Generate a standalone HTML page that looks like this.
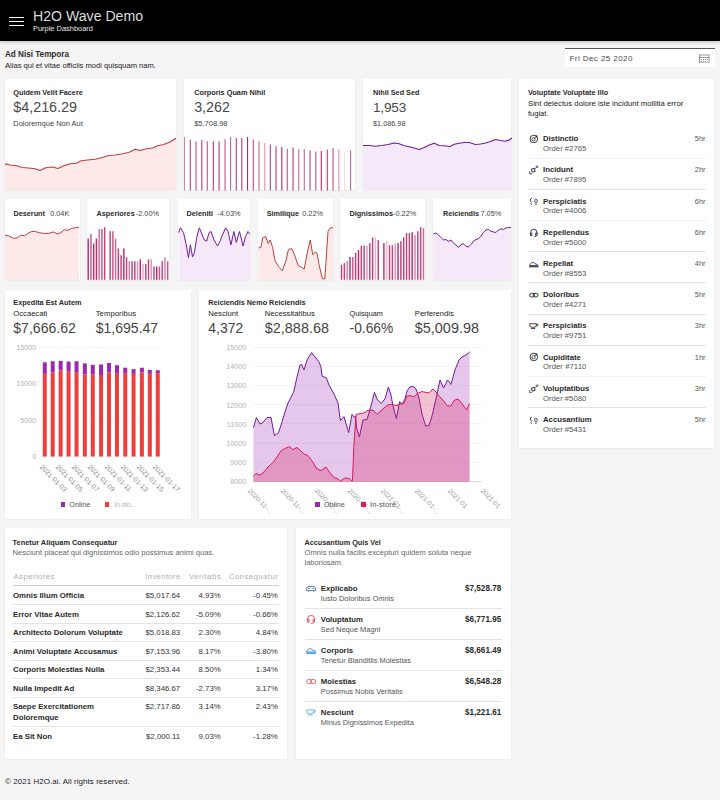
<!DOCTYPE html>
<html><head><meta charset="utf-8"><title>H2O Wave Demo</title>
<style>
html,body{margin:0;padding:0}
body{width:720px;height:800px;position:relative;overflow:hidden;background:#f5f5f5;font-family:"Liberation Sans", sans-serif;color:#222}
.card{position:absolute;background:#fff;box-shadow:0 0.5px 1.5px rgba(0,0,0,0.09);overflow:hidden}
.hdr{position:absolute;left:0;top:0;width:720px;height:41px;background:#000;box-shadow:0 1px 4px rgba(0,0,0,0.25)}
.sep{position:absolute;height:1px;background:#e3e3e3}
</style></head><body>
<div class="hdr"></div>
<div style="position:absolute;left:9px;top:17px;width:14.5px;height:1.3px;background:#fff"></div>
<div style="position:absolute;left:9px;top:21px;width:14.5px;height:1.3px;background:#fff"></div>
<div style="position:absolute;left:9px;top:25px;width:14.5px;height:1.3px;background:#fff"></div>
<div style="position:absolute;top:8px;font-size:14.11px;line-height:16px;font-weight:400;color:#dcdcdc;white-space:nowrap;letter-spacing:0.000px;left:33px;">H2O Wave Demo</div>
<div style="position:absolute;top:24px;font-size:7.44px;line-height:9px;font-weight:400;color:#e8e8e8;white-space:nowrap;letter-spacing:-0.000px;left:33px;">Purple Dashboard</div>
<div style="position:absolute;top:50px;font-size:8.13px;line-height:9px;font-weight:700;color:#2a2a2a;white-space:nowrap;letter-spacing:0.000px;left:5px;">Ad Nisi Tempora</div>
<div style="position:absolute;top:61px;font-size:7.60px;line-height:9px;font-weight:400;color:#222;white-space:nowrap;letter-spacing:0.000px;left:5px;">Alias qui et vitae officiis modi quisquam nam.</div>
<div style="position:absolute;left:564.5px;top:48px;width:150px;height:19px;background:#fff;border-top:1px solid #555;box-sizing:border-box"></div>
<div style="position:absolute;top:54px;font-size:8.06px;line-height:9px;font-weight:400;color:#4a4a4a;white-space:nowrap;letter-spacing:0.406px;left:569.5px;">Fri Dec 25 2020</div>
<svg style="position:absolute;left:699px;top:53.5px" width="10.5" height="9.5" viewBox="0 0 21 19"><rect x="1" y="2" width="19" height="16" fill="none" stroke="#6a6a6a" stroke-width="1.4"/><line x1="1" y1="7" x2="20" y2="7" stroke="#6a6a6a" stroke-width="1.4"/><g fill="#8a8a8a"><rect x="4" y="10" width="2" height="2"/><rect x="8" y="10" width="2" height="2"/><rect x="12" y="10" width="2" height="2"/><rect x="16" y="10" width="2" height="2"/><rect x="4" y="14" width="2" height="2"/><rect x="8" y="14" width="2" height="2"/><rect x="12" y="14" width="2" height="2"/></g></svg>
<div class="card" style="left:5px;top:79.3px;width:171px;height:111.10000000000001px"></div>
<div style="position:absolute;top:88px;font-size:7.27px;line-height:9px;font-weight:700;color:#2a2a2a;white-space:nowrap;letter-spacing:-0.000px;left:13.3px;">Quidem Velit Facere</div>
<div style="position:absolute;top:99px;font-size:14.32px;line-height:16px;font-weight:400;color:#4a4a4a;white-space:nowrap;left:13.3px;">$4,216.29</div>
<div style="position:absolute;top:119px;font-size:7.49px;line-height:9px;font-weight:400;color:#444;white-space:nowrap;left:13.3px;">Doloremque Non Aut</div>
<svg style="position:absolute;left:5px;top:130px" width="171" height="60.5" viewBox="0 0 171 60.5"><path d="M-0.50,33.75 L5.00,35.00 L11.25,35.75 L17.50,37.50 L23.75,38.00 L30.00,38.75 L35.00,40.50 L41.25,37.50 L47.50,37.00 L53.00,38.50 L58.75,35.75 L65.00,33.75 L71.25,33.25 L76.25,30.75 L82.50,30.00 L90.00,29.25 L97.50,27.50 L102.50,25.75 L110.00,25.00 L117.50,23.75 L123.75,22.50 L130.00,19.25 L135.00,20.50 L141.25,18.75 L147.50,18.00 L152.50,15.75 L158.75,14.50 L165.00,12.00 L171.00,8.25 L171.00,60.50 L-0.50,60.50 Z" fill="#fde9e7" fill-opacity="1"/><path d="M-0.50,33.75 L5.00,35.00 L11.25,35.75 L17.50,37.50 L23.75,38.00 L30.00,38.75 L35.00,40.50 L41.25,37.50 L47.50,37.00 L53.00,38.50 L58.75,35.75 L65.00,33.75 L71.25,33.25 L76.25,30.75 L82.50,30.00 L90.00,29.25 L97.50,27.50 L102.50,25.75 L110.00,25.00 L117.50,23.75 L123.75,22.50 L130.00,19.25 L135.00,20.50 L141.25,18.75 L147.50,18.00 L152.50,15.75 L158.75,14.50 L165.00,12.00 L171.00,8.25" fill="none" stroke="#b84040" stroke-width="1.1" stroke-linejoin="round"/></svg>
<div class="card" style="left:184.2px;top:79.3px;width:170.8px;height:111.10000000000001px"></div>
<div style="position:absolute;top:88px;font-size:7.32px;line-height:9px;font-weight:700;color:#2a2a2a;white-space:nowrap;left:194.2px;">Corporis Quam Nihil</div>
<div style="position:absolute;top:99px;font-size:14.27px;line-height:16px;font-weight:400;color:#4a4a4a;white-space:nowrap;left:194.2px;">3,262</div>
<div style="position:absolute;top:119px;font-size:7.49px;line-height:9px;font-weight:400;color:#444;white-space:nowrap;left:194.2px;">$5,708.98</div>
<svg style="position:absolute;left:184.2px;top:130px" width="170.8" height="60.5" viewBox="0 0 170.8 60.5"><rect x="-0.25" y="7.00" width="1.1" height="53.50" fill="#b02a68" fill-opacity="0.7"/><rect x="5.75" y="9.50" width="1.1" height="51.00" fill="#b02a68" fill-opacity="0.9"/><rect x="11.50" y="11.25" width="1.1" height="49.25" fill="#b02a68" fill-opacity="0.8"/><rect x="17.25" y="10.00" width="1.1" height="50.50" fill="#b02a68" fill-opacity="0.9"/><rect x="22.75" y="11.25" width="1.1" height="49.25" fill="#b02a68" fill-opacity="0.8"/><rect x="28.75" y="11.25" width="1.1" height="49.25" fill="#b02a68" fill-opacity="0.95"/><rect x="34.50" y="11.25" width="1.1" height="49.25" fill="#b02a68" fill-opacity="0.9"/><rect x="40.50" y="9.25" width="1.1" height="51.25" fill="#b02a68" fill-opacity="0.8"/><rect x="46.00" y="7.00" width="1.1" height="53.50" fill="#b02a68" fill-opacity="0.7"/><rect x="51.75" y="8.00" width="1.1" height="52.50" fill="#b02a68" fill-opacity="0.9"/><rect x="57.25" y="8.00" width="1.1" height="52.50" fill="#b02a68" fill-opacity="0.9"/><rect x="63.00" y="7.00" width="1.1" height="53.50" fill="#b02a68" fill-opacity="1"/><rect x="68.75" y="9.50" width="1.1" height="51.00" fill="#b02a68" fill-opacity="0.85"/><rect x="74.50" y="11.50" width="1.1" height="49.00" fill="#b02a68" fill-opacity="0.7"/><rect x="80.25" y="13.00" width="1.1" height="47.50" fill="#b02a68" fill-opacity="0.5"/><rect x="85.75" y="14.50" width="1.1" height="46.00" fill="#b02a68" fill-opacity="0.9"/><rect x="91.50" y="16.25" width="1.1" height="44.25" fill="#b02a68" fill-opacity="0.9"/><rect x="97.25" y="17.00" width="1.1" height="43.50" fill="#b02a68" fill-opacity="1"/><rect x="102.75" y="18.75" width="1.1" height="41.75" fill="#b02a68" fill-opacity="0.8"/><rect x="108.50" y="17.50" width="1.1" height="43.00" fill="#b02a68" fill-opacity="0.9"/><rect x="114.25" y="19.00" width="1.1" height="41.50" fill="#b02a68" fill-opacity="0.7"/><rect x="119.75" y="19.00" width="1.1" height="41.50" fill="#b02a68" fill-opacity="0.7"/><rect x="125.50" y="20.50" width="1.1" height="40.00" fill="#b02a68" fill-opacity="0.9"/><rect x="131.25" y="21.50" width="1.1" height="39.00" fill="#b02a68" fill-opacity="0.8"/><rect x="136.75" y="21.00" width="1.1" height="39.50" fill="#b02a68" fill-opacity="1"/><rect x="142.75" y="19.50" width="1.1" height="41.00" fill="#b02a68" fill-opacity="0.9"/><rect x="148.50" y="18.00" width="1.1" height="42.50" fill="#b02a68" fill-opacity="0.8"/><rect x="154.25" y="19.50" width="1.1" height="41.00" fill="#b02a68" fill-opacity="0.5"/><rect x="160.00" y="23.00" width="1.1" height="37.50" fill="#b02a68" fill-opacity="0.15"/><rect x="166.00" y="20.50" width="1.1" height="40.00" fill="#b02a68" fill-opacity="0.7"/></svg>
<div class="card" style="left:362.5px;top:79.3px;width:148.89999999999998px;height:111.10000000000001px"></div>
<div style="position:absolute;top:88px;font-size:7.28px;line-height:9px;font-weight:700;color:#2a2a2a;white-space:nowrap;letter-spacing:0.000px;left:373px;">Nihil Sed Sed</div>
<div style="position:absolute;top:100px;font-size:13.63px;line-height:15px;font-weight:400;color:#4a4a4a;white-space:nowrap;letter-spacing:-0.204px;left:373px;">1,953</div>
<div style="position:absolute;top:119px;font-size:7.31px;line-height:9px;font-weight:400;color:#444;white-space:nowrap;left:373px;">$1,086.98</div>
<svg style="position:absolute;left:362.5px;top:130px" width="149.0" height="60.5" viewBox="0 0 149.0 60.5"><path d="M0.00,15.50 L6.25,15.50 L12.50,16.25 L18.75,15.50 L25.00,14.50 L31.25,13.00 L36.25,13.75 L41.25,15.75 L46.25,16.75 L51.25,18.00 L56.25,19.50 L61.25,17.50 L66.25,15.00 L71.25,13.25 L76.25,15.50 L81.25,15.75 L87.00,16.50 L91.25,14.25 L96.25,13.25 L101.25,12.50 L106.25,12.50 L112.50,14.50 L117.50,14.00 L122.50,13.00 L127.50,11.50 L132.50,9.50 L137.50,10.50 L142.50,11.25 L146.25,10.00 L149.00,8.00 L149.00,60.50 L0.00,60.50 Z" fill="#f5e8f8" fill-opacity="1"/><path d="M0.00,15.50 L6.25,15.50 L12.50,16.25 L18.75,15.50 L25.00,14.50 L31.25,13.00 L36.25,13.75 L41.25,15.75 L46.25,16.75 L51.25,18.00 L56.25,19.50 L61.25,17.50 L66.25,15.00 L71.25,13.25 L76.25,15.50 L81.25,15.75 L87.00,16.50 L91.25,14.25 L96.25,13.25 L101.25,12.50 L106.25,12.50 L112.50,14.50 L117.50,14.00 L122.50,13.00 L127.50,11.50 L132.50,9.50 L137.50,10.50 L142.50,11.25 L146.25,10.00 L149.00,8.00" fill="none" stroke="#6f1b9a" stroke-width="1.1" stroke-linejoin="round"/></svg>
<div class="card" style="left:519.3px;top:79.3px;width:195.20000000000005px;height:368.59999999999997px"></div>
<div style="position:absolute;top:88px;font-size:7.32px;line-height:9px;font-weight:700;color:#2a2a2a;white-space:nowrap;left:528px;">Voluptate Voluptate Illo</div>
<div style="position:absolute;top:99px;font-size:7.73px;line-height:9px;font-weight:400;color:#222;white-space:nowrap;letter-spacing:0.000px;left:528px;">Sint delectus dolore iste incidunt mollitia error</div>
<div style="position:absolute;top:109px;font-size:7.53px;line-height:9px;font-weight:400;color:#222;white-space:nowrap;left:528px;">fugiat.</div>
<svg style="position:absolute;left:529.0px;top:133.89999999999998px" width="9.6" height="9.6" viewBox="0 0 16 16"><circle cx="8" cy="8.3" r="6.3" fill="none" stroke="#2a2a2a" stroke-width="1.5"/><circle cx="7.6" cy="8.8" r="2.7" fill="none" stroke="#2a2a2a" stroke-width="1.4"/><path d="M9.5 7 L13 3.2 M10.5 3 h2.8 v2.8" fill="none" stroke="#2a2a2a" stroke-width="1.3"/></svg>
<div style="position:absolute;top:134px;font-size:7.75px;line-height:9px;font-weight:700;color:#2a2a2a;white-space:nowrap;left:543px;">Distinctio</div>
<div style="position:absolute;top:144px;font-size:7.71px;line-height:9px;font-weight:400;color:#555;white-space:nowrap;left:543px;">Order #2765</div>
<div style="position:absolute;top:134px;font-size:7.40px;line-height:9px;font-weight:400;color:#555;white-space:nowrap;right:14.50px;">5hr</div>
<div class="sep" style="left:528px;width:178px;top:157.5px;background:#f0f0f0"></div>
<svg style="position:absolute;left:529.0px;top:165.09999999999997px" width="9.6" height="9.6" viewBox="0 0 16 16"><rect x="4.6" y="6.2" width="5.2" height="5.2" fill="none" stroke="#2a2a2a" stroke-width="1.5" transform="rotate(-12 7 9)"/><path d="M9.8 6.4 L12.4 3.8 M1.2 10.5 v4.3 h4.3" fill="none" stroke="#2a2a2a" stroke-width="1.4"/><circle cx="13.4" cy="2.8" r="1.5" fill="none" stroke="#2a2a2a" stroke-width="1.2"/></svg>
<div style="position:absolute;top:165px;font-size:7.75px;line-height:9px;font-weight:700;color:#2a2a2a;white-space:nowrap;left:543px;">Incidunt</div>
<div style="position:absolute;top:175px;font-size:7.71px;line-height:9px;font-weight:400;color:#555;white-space:nowrap;left:543px;">Order #7895</div>
<div style="position:absolute;top:165px;font-size:7.40px;line-height:9px;font-weight:400;color:#555;white-space:nowrap;right:14.50px;">2hr</div>
<div class="sep" style="left:528px;width:178px;top:188.7px;background:#e2e2e2"></div>
<svg style="position:absolute;left:529.0px;top:196.29999999999998px" width="9.6" height="9.6" viewBox="0 0 16 16"><path d="M4.8 3.5 q-3 0.5 -2.6 4.5 q0.2 2 2.6 2 M2.4 12.3 q0.3 1.8 2.4 1.6" fill="none" stroke="#2a2a2a" stroke-width="1.4"/><path d="M11 5 q3 0.3 2.8 4.2 q-0.3 2.2 -2.6 2.2 q-1.8 -0.2 -1.6 -3 q0.2 -3 1.4 -3.4 z M10 13.2 q1.2 1.6 3 0.2" fill="none" stroke="#2a2a2a" stroke-width="1.4"/></svg>
<div style="position:absolute;top:197px;font-size:7.75px;line-height:9px;font-weight:700;color:#2a2a2a;white-space:nowrap;left:543px;">Perspiciatis</div>
<div style="position:absolute;top:206px;font-size:7.71px;line-height:9px;font-weight:400;color:#555;white-space:nowrap;left:543px;">Order #4006</div>
<div style="position:absolute;top:197px;font-size:7.40px;line-height:9px;font-weight:400;color:#555;white-space:nowrap;right:14.50px;">6hr</div>
<div class="sep" style="left:528px;width:178px;top:219.9px;background:#f0f0f0"></div>
<svg style="position:absolute;left:529.0px;top:227.49999999999997px" width="9.6" height="9.6" viewBox="0 0 16 16"><path d="M2.6 10 V7.6 a5.4 5.4 0 0 1 10.8 0 V10 M2.6 8.3 v4.6 h2.2 v-4.6 z M13.4 8.3 v4.6 h-2.2 v-4.6 z M12.3 13 q-1 2 -4.2 2" fill="none" stroke="#2a2a2a" stroke-width="1.5"/></svg>
<div style="position:absolute;top:228px;font-size:7.75px;line-height:9px;font-weight:700;color:#2a2a2a;white-space:nowrap;left:543px;">Repellendus</div>
<div style="position:absolute;top:238px;font-size:7.71px;line-height:9px;font-weight:400;color:#555;white-space:nowrap;left:543px;">Order #5000</div>
<div style="position:absolute;top:228px;font-size:7.40px;line-height:9px;font-weight:400;color:#555;white-space:nowrap;right:14.50px;">6hr</div>
<div class="sep" style="left:528px;width:178px;top:251.1px;background:#e2e2e2"></div>
<svg style="position:absolute;left:529.0px;top:258.7px" width="9.6" height="9.6" viewBox="0 0 16 16"><path d="M1 11 h14 q0 -2 -3.6 -2.6 q-2.6 -0.6 -4.2 -3.4 q-1 1.4 -2.8 1 l-3 3.2 z" fill="none" stroke="#2a2a2a" stroke-width="1.4" stroke-linejoin="round"/><path d="M0.3 12.9 h15.4" stroke="#2a2a2a" stroke-width="1.9"/></svg>
<div style="position:absolute;top:259px;font-size:7.75px;line-height:9px;font-weight:700;color:#2a2a2a;white-space:nowrap;left:543px;">Repellat</div>
<div style="position:absolute;top:269px;font-size:7.71px;line-height:9px;font-weight:400;color:#555;white-space:nowrap;left:543px;">Order #8553</div>
<div style="position:absolute;top:259px;font-size:7.40px;line-height:9px;font-weight:400;color:#555;white-space:nowrap;right:14.50px;">4hr</div>
<div class="sep" style="left:528px;width:178px;top:282.3px;background:#e2e2e2"></div>
<svg style="position:absolute;left:529.0px;top:289.9px" width="9.6" height="9.6" viewBox="0 0 16 16"><rect x="1" y="5.6" width="8" height="6" rx="3" fill="none" stroke="#2a2a2a" stroke-width="1.6"/><rect x="7" y="5.6" width="8" height="6" rx="3" fill="none" stroke="#2a2a2a" stroke-width="1.6"/></svg>
<div style="position:absolute;top:290px;font-size:7.75px;line-height:9px;font-weight:700;color:#2a2a2a;white-space:nowrap;left:543px;">Doloribus</div>
<div style="position:absolute;top:300px;font-size:7.71px;line-height:9px;font-weight:400;color:#555;white-space:nowrap;left:543px;">Order #4271</div>
<div style="position:absolute;top:290px;font-size:7.40px;line-height:9px;font-weight:400;color:#555;white-space:nowrap;right:14.50px;">5hr</div>
<div class="sep" style="left:528px;width:178px;top:313.5px;background:#e2e2e2"></div>
<svg style="position:absolute;left:529.0px;top:321.09999999999997px" width="9.6" height="9.6" viewBox="0 0 16 16"><path d="M1 4.6 h11.5 v1.6 q0 4.6 -5.7 4.6 q-5.8 0 -5.8 -4.6 z M12.5 5.4 h2 q1.2 0 0.6 1.6 q-0.6 1.6 -3 1.6 M3.4 12.6 h7" fill="none" stroke="#2a2a2a" stroke-width="1.5" stroke-linejoin="round"/></svg>
<div style="position:absolute;top:321px;font-size:7.75px;line-height:9px;font-weight:700;color:#2a2a2a;white-space:nowrap;left:543px;">Perspiciatis</div>
<div style="position:absolute;top:331px;font-size:7.71px;line-height:9px;font-weight:400;color:#555;white-space:nowrap;left:543px;">Order #9751</div>
<div style="position:absolute;top:321px;font-size:7.40px;line-height:9px;font-weight:400;color:#555;white-space:nowrap;right:14.50px;">3hr</div>
<div class="sep" style="left:528px;width:178px;top:344.7px;background:#e2e2e2"></div>
<svg style="position:absolute;left:529.0px;top:352.3px" width="9.6" height="9.6" viewBox="0 0 16 16"><circle cx="8" cy="8.3" r="6.3" fill="none" stroke="#2a2a2a" stroke-width="1.5"/><circle cx="7.6" cy="8.8" r="2.7" fill="none" stroke="#2a2a2a" stroke-width="1.4"/><path d="M9.5 7 L13 3.2 M10.5 3 h2.8 v2.8" fill="none" stroke="#2a2a2a" stroke-width="1.3"/></svg>
<div style="position:absolute;top:353px;font-size:7.75px;line-height:9px;font-weight:700;color:#2a2a2a;white-space:nowrap;left:543px;">Cupiditate</div>
<div style="position:absolute;top:362px;font-size:7.74px;line-height:9px;font-weight:400;color:#555;white-space:nowrap;letter-spacing:0.043px;left:543px;">Order #7110</div>
<div style="position:absolute;top:353px;font-size:7.40px;line-height:9px;font-weight:400;color:#555;white-space:nowrap;right:14.50px;">1hr</div>
<div class="sep" style="left:528px;width:178px;top:375.9px;background:#f0f0f0"></div>
<svg style="position:absolute;left:529.0px;top:383.49999999999994px" width="9.6" height="9.6" viewBox="0 0 16 16"><rect x="4.6" y="6.2" width="5.2" height="5.2" fill="none" stroke="#2a2a2a" stroke-width="1.5" transform="rotate(-12 7 9)"/><path d="M9.8 6.4 L12.4 3.8 M1.2 10.5 v4.3 h4.3" fill="none" stroke="#2a2a2a" stroke-width="1.4"/><circle cx="13.4" cy="2.8" r="1.5" fill="none" stroke="#2a2a2a" stroke-width="1.2"/></svg>
<div style="position:absolute;top:384px;font-size:7.75px;line-height:9px;font-weight:700;color:#2a2a2a;white-space:nowrap;left:543px;">Voluptatibus</div>
<div style="position:absolute;top:394px;font-size:7.71px;line-height:9px;font-weight:400;color:#555;white-space:nowrap;left:543px;">Order #5080</div>
<div style="position:absolute;top:384px;font-size:7.40px;line-height:9px;font-weight:400;color:#555;white-space:nowrap;right:14.50px;">3hr</div>
<div class="sep" style="left:528px;width:178px;top:407.1px;background:#e2e2e2"></div>
<svg style="position:absolute;left:529.0px;top:414.7px" width="9.6" height="9.6" viewBox="0 0 16 16"><path d="M4.8 3.5 q-3 0.5 -2.6 4.5 q0.2 2 2.6 2 M2.4 12.3 q0.3 1.8 2.4 1.6" fill="none" stroke="#2a2a2a" stroke-width="1.4"/><path d="M11 5 q3 0.3 2.8 4.2 q-0.3 2.2 -2.6 2.2 q-1.8 -0.2 -1.6 -3 q0.2 -3 1.4 -3.4 z M10 13.2 q1.2 1.6 3 0.2" fill="none" stroke="#2a2a2a" stroke-width="1.4"/></svg>
<div style="position:absolute;top:415px;font-size:7.75px;line-height:9px;font-weight:700;color:#2a2a2a;white-space:nowrap;left:543px;">Accusantium</div>
<div style="position:absolute;top:425px;font-size:7.71px;line-height:9px;font-weight:400;color:#555;white-space:nowrap;left:543px;">Order #5431</div>
<div style="position:absolute;top:415px;font-size:7.40px;line-height:9px;font-weight:400;color:#555;white-space:nowrap;right:14.50px;">5hr</div>
<div class="card" style="left:5px;top:199.3px;width:74.5px;height:80.39999999999998px"></div>
<div style="position:absolute;top:209px;font-size:7.29px;line-height:9px;font-weight:700;color:#2a2a2a;white-space:nowrap;letter-spacing:-0.000px;left:13.4px;">Deserunt</div>
<div style="position:absolute;top:209px;font-size:7.32px;line-height:9px;font-weight:400;color:#444;white-space:nowrap;right:650.70px;">0.04K</div>
<div class="card" style="left:86.8px;top:199.3px;width:82.7px;height:80.39999999999998px"></div>
<div style="position:absolute;top:209px;font-size:7.32px;line-height:9px;font-weight:700;color:#2a2a2a;white-space:nowrap;letter-spacing:-0.000px;left:96.5px;">Asperiores</div>
<div style="position:absolute;top:209px;font-size:7.32px;line-height:9px;font-weight:400;color:#444;white-space:nowrap;right:561.00px;">-2.00%</div>
<div class="card" style="left:177.8px;top:199.3px;width:72.39999999999998px;height:80.39999999999998px"></div>
<div style="position:absolute;top:209px;font-size:7.32px;line-height:9px;font-weight:700;color:#2a2a2a;white-space:nowrap;left:186.5px;">Deleniti</div>
<div style="position:absolute;top:209px;font-size:7.32px;line-height:9px;font-weight:400;color:#444;white-space:nowrap;right:479.50px;">-4.03%</div>
<div class="card" style="left:257.5px;top:199.3px;width:75.5px;height:80.39999999999998px"></div>
<div style="position:absolute;top:209px;font-size:7.29px;line-height:9px;font-weight:700;color:#2a2a2a;white-space:nowrap;letter-spacing:-0.000px;left:266.7px;">Similique</div>
<div style="position:absolute;top:209px;font-size:7.32px;line-height:9px;font-weight:400;color:#444;white-space:nowrap;right:397.00px;">0.22%</div>
<div class="card" style="left:340px;top:199.3px;width:85px;height:80.39999999999998px"></div>
<div style="position:absolute;top:209px;font-size:7.32px;line-height:9px;font-weight:700;color:#2a2a2a;white-space:nowrap;left:349.5px;">Dignissimos</div>
<div style="position:absolute;top:209px;font-size:7.32px;line-height:9px;font-weight:400;color:#444;white-space:nowrap;right:303.75px;">-0.22%</div>
<div class="card" style="left:433.3px;top:199.3px;width:78.0px;height:80.39999999999998px"></div>
<div style="position:absolute;top:209px;font-size:7.20px;line-height:9px;font-weight:700;color:#2a2a2a;white-space:nowrap;letter-spacing:-0.000px;left:443px;">Reiciendis</div>
<div style="position:absolute;top:209px;font-size:7.32px;line-height:9px;font-weight:400;color:#444;white-space:nowrap;right:218.75px;">7.05%</div>
<svg style="position:absolute;left:5px;top:220px" width="74.5" height="59.69999999999999" viewBox="0 0 74.5 59.69999999999999"><path d="M-0.14,15.11 L3.51,15.84 L8.37,18.27 L12.02,18.02 L15.66,15.11 L19.31,15.84 L22.95,13.41 L26.60,11.46 L30.25,11.46 L33.89,12.68 L38.75,13.41 L43.61,13.41 L48.48,11.95 L52.12,13.89 L55.77,12.68 L59.41,9.76 L63.06,10.25 L66.71,8.30 L70.35,7.81 L74.00,7.33 L74.00,59.70 L-0.14,59.70 Z" fill="#fde9e7" fill-opacity="1"/><path d="M-0.14,15.11 L3.51,15.84 L8.37,18.27 L12.02,18.02 L15.66,15.11 L19.31,15.84 L22.95,13.41 L26.60,11.46 L30.25,11.46 L33.89,12.68 L38.75,13.41 L43.61,13.41 L48.48,11.95 L52.12,13.89 L55.77,12.68 L59.41,9.76 L63.06,10.25 L66.71,8.30 L70.35,7.81 L74.00,7.33" fill="none" stroke="#b84040" stroke-width="1.0" stroke-linejoin="round"/></svg>
<svg style="position:absolute;left:86.8px;top:220px" width="82.7" height="59.69999999999999" viewBox="0 0 82.7 59.69999999999999"><rect x="0.48" y="18.50" width="1.45" height="41.30" fill="#b82d6c" fill-opacity="1"/><rect x="3.22" y="14.00" width="1.45" height="45.80" fill="#b82d6c" fill-opacity="0.8"/><rect x="5.96" y="23.50" width="1.45" height="36.30" fill="#b82d6c" fill-opacity="1"/><rect x="8.70" y="18.50" width="1.45" height="41.30" fill="#b82d6c" fill-opacity="1"/><rect x="11.44" y="9.00" width="1.45" height="50.80" fill="#b82d6c" fill-opacity="0.7"/><rect x="14.18" y="9.00" width="1.45" height="50.80" fill="#b82d6c" fill-opacity="0.8"/><rect x="16.92" y="7.25" width="1.45" height="52.55" fill="#b82d6c" fill-opacity="0.9"/><rect x="22.41" y="11.25" width="1.45" height="48.55" fill="#b82d6c" fill-opacity="0.9"/><rect x="25.15" y="11.25" width="1.45" height="48.55" fill="#b82d6c" fill-opacity="0.8"/><rect x="27.89" y="18.50" width="1.45" height="41.30" fill="#b82d6c" fill-opacity="0.7"/><rect x="30.63" y="28.50" width="1.45" height="31.30" fill="#b82d6c" fill-opacity="0.9"/><rect x="33.37" y="35.25" width="1.45" height="24.55" fill="#b82d6c" fill-opacity="0.9"/><rect x="36.11" y="28.50" width="1.45" height="31.30" fill="#b82d6c" fill-opacity="1"/><rect x="38.85" y="37.25" width="1.45" height="22.55" fill="#b82d6c" fill-opacity="0.9"/><rect x="41.59" y="41.25" width="1.45" height="18.55" fill="#b82d6c" fill-opacity="0.6"/><rect x="44.34" y="41.25" width="1.45" height="18.55" fill="#b82d6c" fill-opacity="0.9"/><rect x="47.08" y="41.25" width="1.45" height="18.55" fill="#b82d6c" fill-opacity="0.9"/><rect x="49.82" y="41.25" width="1.45" height="18.55" fill="#b82d6c" fill-opacity="0.5"/><rect x="52.56" y="39.38" width="1.45" height="20.43" fill="#b82d6c" fill-opacity="1"/><rect x="55.30" y="44.00" width="1.45" height="15.80" fill="#b82d6c" fill-opacity="0.4"/><rect x="58.04" y="44.00" width="1.45" height="15.80" fill="#b82d6c" fill-opacity="0.9"/><rect x="60.78" y="39.38" width="1.45" height="20.43" fill="#b82d6c" fill-opacity="0.9"/><rect x="63.52" y="39.38" width="1.45" height="20.43" fill="#b82d6c" fill-opacity="0.5"/><rect x="66.27" y="46.50" width="1.45" height="13.30" fill="#b82d6c" fill-opacity="0.9"/><rect x="69.01" y="46.50" width="1.45" height="13.30" fill="#b82d6c" fill-opacity="1"/><rect x="71.75" y="46.50" width="1.45" height="13.30" fill="#b82d6c" fill-opacity="0.8"/><rect x="74.49" y="41.25" width="1.45" height="18.55" fill="#b82d6c" fill-opacity="0.9"/><rect x="77.23" y="37.25" width="1.45" height="22.55" fill="#b82d6c" fill-opacity="0.6"/><rect x="79.97" y="41.25" width="1.45" height="18.55" fill="#b82d6c" fill-opacity="0.8"/></svg>
<svg style="position:absolute;left:177.8px;top:220px" width="72.39999999999998" height="59.69999999999999" viewBox="0 0 72.39999999999998 59.69999999999999"><path d="M0.71,12.68 L2.41,7.81 L5.57,12.68 L8.00,23.61 L10.43,37.71 L12.38,24.83 L14.56,36.98 L16.51,32.12 L18.94,16.32 L21.37,7.81 L23.80,13.89 L26.23,19.97 L28.66,21.18 L31.09,12.68 L33.04,11.46 L35.95,19.97 L39.60,26.05 L42.03,21.18 L44.46,15.11 L47.62,7.81 L50.05,11.46 L52.97,24.83 L55.88,11.46 L58.32,22.40 L61.48,11.46 L65.12,26.05 L67.55,16.32 L69.98,11.46 L71.93,13.89 L71.93,59.70 L0.71,59.70 Z" fill="#f5e8f8" fill-opacity="1"/><path d="M0.71,12.68 L2.41,7.81 L5.57,12.68 L8.00,23.61 L10.43,37.71 L12.38,24.83 L14.56,36.98 L16.51,32.12 L18.94,16.32 L21.37,7.81 L23.80,13.89 L26.23,19.97 L28.66,21.18 L31.09,12.68 L33.04,11.46 L35.95,19.97 L39.60,26.05 L42.03,21.18 L44.46,15.11 L47.62,7.81 L50.05,11.46 L52.97,24.83 L55.88,11.46 L58.32,22.40 L61.48,11.46 L65.12,26.05 L67.55,16.32 L69.98,11.46 L71.93,13.89" fill="none" stroke="#6f1b9a" stroke-width="1.0" stroke-linejoin="round"/></svg>
<svg style="position:absolute;left:257.5px;top:220px" width="75.5" height="59.69999999999999" viewBox="0 0 75.5 59.69999999999999"><path d="M0.49,27.99 L2.92,27.26 L4.87,17.54 L7.78,16.81 L10.22,23.61 L12.16,19.97 L14.59,27.26 L17.02,40.63 L20.67,46.71 L24.31,50.84 L27.96,40.63 L30.39,29.69 L33.55,28.48 L36.47,34.55 L40.11,45.49 L43.76,47.44 L46.19,49.14 L49.11,33.34 L52.27,19.97 L54.70,34.55 L57.13,32.12 L59.07,33.34 L61.26,45.49 L64.42,58.86 L66.85,58.86 L70.01,11.46 L72.44,7.81 L75.36,7.81 L75.36,59.70 L0.49,59.70 Z" fill="#fde9e7" fill-opacity="1"/><path d="M0.49,27.99 L2.92,27.26 L4.87,17.54 L7.78,16.81 L10.22,23.61 L12.16,19.97 L14.59,27.26 L17.02,40.63 L20.67,46.71 L24.31,50.84 L27.96,40.63 L30.39,29.69 L33.55,28.48 L36.47,34.55 L40.11,45.49 L43.76,47.44 L46.19,49.14 L49.11,33.34 L52.27,19.97 L54.70,34.55 L57.13,32.12 L59.07,33.34 L61.26,45.49 L64.42,58.86 L66.85,58.86 L70.01,11.46 L72.44,7.81 L75.36,7.81" fill="none" stroke="#b8423a" stroke-width="1.0" stroke-linejoin="round"/></svg>
<svg style="position:absolute;left:340px;top:220px" width="85" height="59.69999999999999" viewBox="0 0 85 59.69999999999999"><rect x="0.78" y="45.00" width="1.45" height="14.80" fill="#b82d6c" fill-opacity="0.9"/><rect x="3.60" y="43.12" width="1.45" height="16.68" fill="#b82d6c" fill-opacity="0.9"/><rect x="6.43" y="41.00" width="1.45" height="18.80" fill="#b82d6c" fill-opacity="0.6"/><rect x="9.26" y="37.00" width="1.45" height="22.80" fill="#b82d6c" fill-opacity="1"/><rect x="12.09" y="37.00" width="1.45" height="22.80" fill="#b82d6c" fill-opacity="0.8"/><rect x="14.91" y="32.75" width="1.45" height="27.05" fill="#b82d6c" fill-opacity="0.9"/><rect x="17.74" y="30.00" width="1.45" height="29.80" fill="#b82d6c" fill-opacity="1"/><rect x="20.57" y="25.62" width="1.45" height="34.18" fill="#b82d6c" fill-opacity="0.9"/><rect x="23.40" y="25.62" width="1.45" height="34.18" fill="#b82d6c" fill-opacity="0.9"/><rect x="26.22" y="26.00" width="1.45" height="33.80" fill="#b82d6c" fill-opacity="0.5"/><rect x="29.05" y="23.12" width="1.45" height="36.68" fill="#b82d6c" fill-opacity="0.9"/><rect x="31.88" y="17.50" width="1.45" height="42.30" fill="#b82d6c" fill-opacity="0.9"/><rect x="34.71" y="17.50" width="1.45" height="42.30" fill="#b82d6c" fill-opacity="0.35"/><rect x="37.53" y="20.00" width="1.45" height="39.80" fill="#b82d6c" fill-opacity="0.9"/><rect x="43.19" y="23.12" width="1.45" height="36.68" fill="#b82d6c" fill-opacity="1"/><rect x="46.02" y="21.25" width="1.45" height="38.55" fill="#b82d6c" fill-opacity="0.35"/><rect x="48.84" y="25.38" width="1.45" height="34.43" fill="#b82d6c" fill-opacity="0.9"/><rect x="51.67" y="25.38" width="1.45" height="34.43" fill="#b82d6c" fill-opacity="0.9"/><rect x="54.50" y="23.50" width="1.45" height="36.30" fill="#b82d6c" fill-opacity="0.5"/><rect x="57.33" y="23.12" width="1.45" height="36.68" fill="#b82d6c" fill-opacity="1"/><rect x="60.15" y="21.25" width="1.45" height="38.55" fill="#b82d6c" fill-opacity="0.9"/><rect x="62.98" y="17.25" width="1.45" height="42.55" fill="#b82d6c" fill-opacity="0.9"/><rect x="65.81" y="13.12" width="1.45" height="46.68" fill="#b82d6c" fill-opacity="0.9"/><rect x="68.64" y="13.12" width="1.45" height="46.68" fill="#b82d6c" fill-opacity="0.9"/><rect x="71.46" y="12.25" width="1.45" height="47.55" fill="#b82d6c" fill-opacity="1"/><rect x="74.29" y="15.00" width="1.45" height="44.80" fill="#b82d6c" fill-opacity="0.6"/><rect x="77.12" y="11.25" width="1.45" height="48.55" fill="#b82d6c" fill-opacity="0.9"/><rect x="79.95" y="7.25" width="1.45" height="52.55" fill="#b82d6c" fill-opacity="0.9"/><rect x="82.77" y="8.12" width="1.45" height="51.68" fill="#b82d6c" fill-opacity="0.7"/></svg>
<svg style="position:absolute;left:433.3px;top:220px" width="78.0" height="59.69999999999999" viewBox="0 0 78.0 59.69999999999999"><path d="M0.45,13.75 L2.95,13.00 L5.45,15.00 L7.95,17.50 L10.45,20.00 L12.95,19.50 L15.45,21.25 L17.95,20.00 L20.45,23.00 L22.95,25.00 L25.45,27.50 L27.95,24.50 L30.45,23.75 L32.95,26.25 L35.45,27.00 L37.95,24.50 L40.45,21.25 L42.95,19.50 L45.45,18.75 L47.95,16.25 L50.45,12.50 L52.95,10.00 L55.45,9.50 L57.95,11.25 L60.45,12.00 L62.95,12.50 L65.45,10.00 L67.95,8.75 L70.45,9.50 L72.95,8.00 L75.45,7.50 L77.95,7.50 L77.95,59.70 L0.45,59.70 Z" fill="#f5e8f8" fill-opacity="1"/><path d="M0.45,13.75 L2.95,13.00 L5.45,15.00 L7.95,17.50 L10.45,20.00 L12.95,19.50 L15.45,21.25 L17.95,20.00 L20.45,23.00 L22.95,25.00 L25.45,27.50 L27.95,24.50 L30.45,23.75 L32.95,26.25 L35.45,27.00 L37.95,24.50 L40.45,21.25 L42.95,19.50 L45.45,18.75 L47.95,16.25 L50.45,12.50 L52.95,10.00 L55.45,9.50 L57.95,11.25 L60.45,12.00 L62.95,12.50 L65.45,10.00 L67.95,8.75 L70.45,9.50 L72.95,8.00 L75.45,7.50 L77.95,7.50" fill="none" stroke="#6f1b9a" stroke-width="1.0" stroke-linejoin="round"/></svg>
<div class="card" style="left:5px;top:289.5px;width:185.6px;height:229.89999999999998px"></div>
<div style="position:absolute;top:298px;font-size:7.29px;line-height:9px;font-weight:700;color:#2a2a2a;white-space:nowrap;left:13.3px;">Expedita Est Autem</div>
<div style="position:absolute;top:309px;font-size:7.63px;line-height:9px;font-weight:400;color:#222;white-space:nowrap;letter-spacing:0.008px;left:13.3px;">Occaecati</div>
<div style="position:absolute;top:309px;font-size:7.63px;line-height:9px;font-weight:400;color:#222;white-space:nowrap;letter-spacing:0.105px;left:95.7px;">Temporibus</div>
<div style="position:absolute;top:320px;font-size:14.05px;line-height:16px;font-weight:400;color:#444;white-space:nowrap;left:13.3px;">$7,666.62</div>
<div style="position:absolute;top:320px;font-size:14.05px;line-height:16px;font-weight:400;color:#444;white-space:nowrap;left:95.7px;">$1,695.47</div>
<div style="position:absolute;top:343px;font-size:7.20px;line-height:9px;font-weight:400;color:#b4b4b4;white-space:nowrap;right:683.80px;">15000</div>
<div style="position:absolute;left:40px;width:122px;top:346.8px;height:0.7px;background:#f5f5f5"></div>
<div style="position:absolute;top:379px;font-size:7.20px;line-height:9px;font-weight:400;color:#b4b4b4;white-space:nowrap;right:683.80px;">10000</div>
<div style="position:absolute;left:40px;width:122px;top:382.9px;height:0.7px;background:#f5f5f5"></div>
<div style="position:absolute;top:416px;font-size:7.20px;line-height:9px;font-weight:400;color:#b4b4b4;white-space:nowrap;right:683.80px;">5000</div>
<div style="position:absolute;left:40px;width:122px;top:419.4px;height:0.7px;background:#f5f5f5"></div>
<div style="position:absolute;top:452px;font-size:7.20px;line-height:9px;font-weight:400;color:#b4b4b4;white-space:nowrap;right:683.80px;">0</div>
<div style="position:absolute;left:40px;width:122px;top:456.2px;height:0.7px;background:#f5f5f5"></div>
<svg style="position:absolute;left:5px;top:340px" width="185" height="130" viewBox="0 0 185 130"><rect x="37.77" y="22.31" width="4" height="11.55" fill="#9c27b0"/><rect x="37.77" y="33.86" width="4" height="82.67" fill="#ee3e3e"/><rect x="45.71" y="21.23" width="4" height="11.19" fill="#9c27b0"/><rect x="45.71" y="32.42" width="4" height="84.12" fill="#ee3e3e"/><rect x="53.65" y="20.87" width="4" height="9.39" fill="#9c27b0"/><rect x="53.65" y="30.25" width="4" height="86.28" fill="#ee3e3e"/><rect x="61.59" y="21.59" width="4" height="10.11" fill="#9c27b0"/><rect x="61.59" y="31.70" width="4" height="84.84" fill="#ee3e3e"/><rect x="69.53" y="21.23" width="4" height="11.55" fill="#9c27b0"/><rect x="69.53" y="32.78" width="4" height="83.75" fill="#ee3e3e"/><rect x="77.84" y="23.39" width="4" height="11.19" fill="#9c27b0"/><rect x="77.84" y="34.58" width="4" height="81.95" fill="#ee3e3e"/><rect x="85.78" y="24.84" width="4" height="9.75" fill="#9c27b0"/><rect x="85.78" y="34.58" width="4" height="81.95" fill="#ee3e3e"/><rect x="94.08" y="24.48" width="4" height="10.47" fill="#9c27b0"/><rect x="94.08" y="34.95" width="4" height="81.59" fill="#ee3e3e"/><rect x="102.03" y="23.03" width="4" height="9.39" fill="#9c27b0"/><rect x="102.03" y="32.42" width="4" height="84.12" fill="#ee3e3e"/><rect x="109.97" y="25.20" width="4" height="7.94" fill="#9c27b0"/><rect x="109.97" y="33.14" width="4" height="83.39" fill="#ee3e3e"/><rect x="118.27" y="27.73" width="4" height="5.42" fill="#9c27b0"/><rect x="118.27" y="33.14" width="4" height="83.39" fill="#ee3e3e"/><rect x="126.57" y="29.17" width="4" height="4.69" fill="#9c27b0"/><rect x="126.57" y="33.86" width="4" height="82.67" fill="#ee3e3e"/><rect x="134.88" y="27.73" width="4" height="4.69" fill="#9c27b0"/><rect x="134.88" y="32.42" width="4" height="84.12" fill="#ee3e3e"/><rect x="142.82" y="29.89" width="4" height="3.97" fill="#9c27b0"/><rect x="142.82" y="33.86" width="4" height="82.67" fill="#ee3e3e"/><rect x="150.76" y="30.25" width="4" height="2.89" fill="#9c27b0"/><rect x="150.76" y="33.14" width="4" height="83.39" fill="#ee3e3e"/></svg>
<div style="position:absolute;left:41.3px;top:461.8px;font-size:6.9px;line-height:7px;color:#8c8c8c;white-space:nowrap;transform-origin:0 50%;transform:rotate(45deg)">2021-01-03</div>
<div style="position:absolute;left:57.1px;top:461.8px;font-size:6.9px;line-height:7px;color:#8c8c8c;white-space:nowrap;transform-origin:0 50%;transform:rotate(45deg)">2021-01-05</div>
<div style="position:absolute;left:73.0px;top:461.8px;font-size:6.9px;line-height:7px;color:#8c8c8c;white-space:nowrap;transform-origin:0 50%;transform:rotate(45deg)">2021-01-07</div>
<div style="position:absolute;left:89.3px;top:461.8px;font-size:6.9px;line-height:7px;color:#8c8c8c;white-space:nowrap;transform-origin:0 50%;transform:rotate(45deg)">2021-01-09</div>
<div style="position:absolute;left:105.5px;top:461.8px;font-size:6.9px;line-height:7px;color:#8c8c8c;white-space:nowrap;transform-origin:0 50%;transform:rotate(45deg)">2021-01-11</div>
<div style="position:absolute;left:121.8px;top:461.8px;font-size:6.9px;line-height:7px;color:#8c8c8c;white-space:nowrap;transform-origin:0 50%;transform:rotate(45deg)">2021-01-13</div>
<div style="position:absolute;left:138.4px;top:461.8px;font-size:6.9px;line-height:7px;color:#8c8c8c;white-space:nowrap;transform-origin:0 50%;transform:rotate(45deg)">2021-01-15</div>
<div style="position:absolute;left:154.3px;top:461.8px;font-size:6.9px;line-height:7px;color:#8c8c8c;white-space:nowrap;transform-origin:0 50%;transform:rotate(45deg)">2021-01-17</div>
<div style="position:absolute;left:60.8px;top:502.4px;width:4.4px;height:4.4px;background:#9c27b0"></div>
<div style="position:absolute;top:500px;font-size:7.22px;line-height:9px;font-weight:400;color:#555;white-space:nowrap;left:69.3px;">Online</div>
<div style="position:absolute;left:105px;top:502.4px;width:4.4px;height:4.4px;background:#ee3e3e"></div>
<div style="position:absolute;top:500px;font-size:7.21px;line-height:9px;font-weight:400;color:#bbb;white-space:nowrap;letter-spacing:-0.256px;left:114px;">In-sto...</div>
<div class="card" style="left:198.7px;top:289.5px;width:312.6px;height:229.89999999999998px"></div>
<div style="position:absolute;top:298px;font-size:7.30px;line-height:9px;font-weight:700;color:#2a2a2a;white-space:nowrap;left:208.3px;">Reiciendis Nemo Reiciendis</div>
<div style="position:absolute;top:309px;font-size:7.63px;line-height:9px;font-weight:400;color:#222;white-space:nowrap;letter-spacing:0.015px;left:208.3px;">Nesciunt</div>
<div style="position:absolute;top:320px;font-size:13.95px;line-height:16px;font-weight:400;color:#444;white-space:nowrap;left:208.3px;">4,372</div>
<div style="position:absolute;top:309px;font-size:7.63px;line-height:9px;font-weight:400;color:#222;white-space:nowrap;letter-spacing:0.028px;left:264.8px;">Necessitatibus</div>
<div style="position:absolute;top:320px;font-size:14.43px;line-height:16px;font-weight:400;color:#444;white-space:nowrap;left:264.8px;">$2,888.68</div>
<div style="position:absolute;top:309px;font-size:7.30px;line-height:9px;font-weight:400;color:#222;white-space:nowrap;letter-spacing:-0.000px;left:349.6px;">Quisquam</div>
<div style="position:absolute;top:321px;font-size:13.76px;line-height:15px;font-weight:400;color:#444;white-space:nowrap;left:349.6px;">-0.66%</div>
<div style="position:absolute;top:309px;font-size:7.63px;line-height:9px;font-weight:400;color:#222;white-space:nowrap;letter-spacing:-0.000px;left:414.8px;">Perferendis</div>
<div style="position:absolute;top:320px;font-size:14.43px;line-height:16px;font-weight:400;color:#444;white-space:nowrap;left:414.8px;">$5,009.98</div>
<div style="position:absolute;top:343px;font-size:7.20px;line-height:9px;font-weight:400;color:#b4b4b4;white-space:nowrap;right:473.70px;">15000</div>
<div style="position:absolute;left:253px;width:229px;top:347.1px;height:0.7px;background:#f4f4f4"></div>
<div style="position:absolute;top:362px;font-size:7.20px;line-height:9px;font-weight:400;color:#b4b4b4;white-space:nowrap;right:473.70px;">14000</div>
<div style="position:absolute;left:253px;width:229px;top:366.2px;height:0.7px;background:#f4f4f4"></div>
<div style="position:absolute;top:381px;font-size:7.20px;line-height:9px;font-weight:400;color:#b4b4b4;white-space:nowrap;right:473.70px;">13000</div>
<div style="position:absolute;left:253px;width:229px;top:385.3px;height:0.7px;background:#f4f4f4"></div>
<div style="position:absolute;top:401px;font-size:7.20px;line-height:9px;font-weight:400;color:#b4b4b4;white-space:nowrap;right:473.70px;">12000</div>
<div style="position:absolute;left:253px;width:229px;top:404.3px;height:0.7px;background:#f4f4f4"></div>
<div style="position:absolute;top:420px;font-size:7.20px;line-height:9px;font-weight:400;color:#b4b4b4;white-space:nowrap;right:473.70px;">11000</div>
<div style="position:absolute;left:253px;width:229px;top:423.4px;height:0.7px;background:#f4f4f4"></div>
<div style="position:absolute;top:439px;font-size:7.20px;line-height:9px;font-weight:400;color:#b4b4b4;white-space:nowrap;right:473.70px;">10000</div>
<div style="position:absolute;left:253px;width:229px;top:442.5px;height:0.7px;background:#f4f4f4"></div>
<div style="position:absolute;top:458px;font-size:7.20px;line-height:9px;font-weight:400;color:#b4b4b4;white-space:nowrap;right:473.70px;">9000</div>
<div style="position:absolute;left:253px;width:229px;top:461.6px;height:0.7px;background:#f4f4f4"></div>
<div style="position:absolute;top:477px;font-size:7.20px;line-height:9px;font-weight:400;color:#b4b4b4;white-space:nowrap;right:473.70px;">8000</div>
<div style="position:absolute;left:253px;width:229px;top:480.7px;height:0.7px;background:#ddd"></div>
<svg style="position:absolute;left:250px;top:345px" width="225" height="136.7" viewBox="0 0 225 136.7"><path d="M3.40,82.60 L6.40,72.60 L10.00,79.00 L12.40,78.00 L17.00,72.60 L21.00,72.40 L24.40,90.60 L28.40,88.00 L32.00,77.00 L35.00,67.00 L38.00,58.00 L43.60,47.40 L47.00,32.00 L50.00,20.00 L51.60,19.40 L54.00,25.00 L57.00,15.00 L61.60,7.60 L65.00,12.00 L69.00,17.00 L71.00,22.00 L72.00,31.00 L76.40,33.00 L79.00,40.00 L84.00,49.00 L88.00,58.00 L90.40,75.60 L94.00,71.60 L98.60,87.60 L102.00,69.40 L104.40,72.60 L105.60,71.00 L106.60,83.00 L109.40,92.00 L113.00,75.00 L117.00,74.60 L121.00,61.00 L124.40,47.40 L127.00,54.00 L131.00,58.60 L135.00,54.00 L138.40,42.00 L141.00,50.00 L143.00,61.00 L146.40,73.60 L149.60,56.60 L152.40,59.00 L155.00,54.00 L157.00,46.00 L160.00,42.00 L163.00,41.40 L166.00,44.00 L169.00,53.00 L172.00,69.00 L175.60,81.00 L179.00,80.60 L182.00,71.00 L186.00,54.00 L190.00,35.00 L193.60,43.00 L197.60,35.00 L201.00,39.40 L205.00,25.00 L209.00,15.00 L212.00,12.00 L216.00,10.00 L219.60,7.00 L219.60,136.70 L3.40,136.70 Z" fill="#9c27b0" fill-opacity="0.26"/><path d="M3.40,82.60 L6.40,72.60 L10.00,79.00 L12.40,78.00 L17.00,72.60 L21.00,72.40 L24.40,90.60 L28.40,88.00 L32.00,77.00 L35.00,67.00 L38.00,58.00 L43.60,47.40 L47.00,32.00 L50.00,20.00 L51.60,19.40 L54.00,25.00 L57.00,15.00 L61.60,7.60 L65.00,12.00 L69.00,17.00 L71.00,22.00 L72.00,31.00 L76.40,33.00 L79.00,40.00 L84.00,49.00 L88.00,58.00 L90.40,75.60 L94.00,71.60 L98.60,87.60 L102.00,69.40 L104.40,72.60 L105.60,71.00 L106.60,83.00 L109.40,92.00 L113.00,75.00 L117.00,74.60 L121.00,61.00 L124.40,47.40 L127.00,54.00 L131.00,58.60 L135.00,54.00 L138.40,42.00 L141.00,50.00 L143.00,61.00 L146.40,73.60 L149.60,56.60 L152.40,59.00 L155.00,54.00 L157.00,46.00 L160.00,42.00 L163.00,41.40 L166.00,44.00 L169.00,53.00 L172.00,69.00 L175.60,81.00 L179.00,80.60 L182.00,71.00 L186.00,54.00 L190.00,35.00 L193.60,43.00 L197.60,35.00 L201.00,39.40 L205.00,25.00 L209.00,15.00 L212.00,12.00 L216.00,10.00 L219.60,7.00" fill="none" stroke="#6f1b9a" stroke-width="1.0" stroke-linejoin="round"/></svg>
<svg style="position:absolute;left:250px;top:345px" width="225" height="136.7" viewBox="0 0 225 136.7"><path d="M3.40,131.00 L6.00,128.60 L10.00,130.00 L14.00,127.00 L18.00,122.00 L23.00,117.40 L27.00,112.00 L31.00,106.00 L35.00,103.40 L39.60,101.60 L42.40,104.60 L47.00,102.60 L50.00,105.00 L54.00,109.00 L58.00,110.60 L62.00,116.00 L67.00,124.00 L71.00,125.60 L76.00,122.00 L80.00,128.00 L84.00,132.60 L87.00,133.40 L90.60,136.00 L95.00,133.00 L99.00,133.40 L102.00,136.00 L102.40,136.00 L104.00,99.00 L106.00,69.40 L110.00,68.60 L114.00,68.00 L118.00,65.40 L123.00,65.00 L127.00,69.40 L130.00,66.60 L134.00,63.00 L138.00,60.00 L142.00,59.40 L146.00,60.60 L150.00,59.00 L153.60,58.60 L157.00,51.00 L160.00,50.60 L164.00,52.00 L168.00,48.00 L172.00,46.60 L176.00,47.40 L179.00,48.00 L183.00,44.00 L186.00,47.00 L189.00,51.00 L193.00,55.00 L197.00,60.60 L201.00,61.00 L204.00,55.40 L208.00,54.00 L212.00,58.60 L216.60,65.00 L219.60,58.60 L219.60,136.70 L3.40,136.70 Z" fill="#d81b60" fill-opacity="0.28"/><path d="M3.40,131.00 L6.00,128.60 L10.00,130.00 L14.00,127.00 L18.00,122.00 L23.00,117.40 L27.00,112.00 L31.00,106.00 L35.00,103.40 L39.60,101.60 L42.40,104.60 L47.00,102.60 L50.00,105.00 L54.00,109.00 L58.00,110.60 L62.00,116.00 L67.00,124.00 L71.00,125.60 L76.00,122.00 L80.00,128.00 L84.00,132.60 L87.00,133.40 L90.60,136.00 L95.00,133.00 L99.00,133.40 L102.00,136.00 L102.40,136.00 L104.00,99.00 L106.00,69.40 L110.00,68.60 L114.00,68.00 L118.00,65.40 L123.00,65.00 L127.00,69.40 L130.00,66.60 L134.00,63.00 L138.00,60.00 L142.00,59.40 L146.00,60.60 L150.00,59.00 L153.60,58.60 L157.00,51.00 L160.00,50.60 L164.00,52.00 L168.00,48.00 L172.00,46.60 L176.00,47.40 L179.00,48.00 L183.00,44.00 L186.00,47.00 L189.00,51.00 L193.00,55.00 L197.00,60.60 L201.00,61.00 L204.00,55.40 L208.00,54.00 L212.00,58.60 L216.60,65.00 L219.60,58.60" fill="none" stroke="#d81b60" stroke-width="1.0" stroke-linejoin="round"/></svg>
<div style="position:absolute;left:249.0px;top:486.0px;font-size:6.8px;line-height:7px;color:#9c9c9c;white-space:nowrap;transform-origin:0 50%;transform:rotate(45deg)">2020-11-...</div>
<div style="position:absolute;left:282.3px;top:486.0px;font-size:6.8px;line-height:7px;color:#9c9c9c;white-space:nowrap;transform-origin:0 50%;transform:rotate(45deg)">2020-11-...</div>
<div style="position:absolute;left:315.6px;top:486.0px;font-size:6.8px;line-height:7px;color:#9c9c9c;white-space:nowrap;transform-origin:0 50%;transform:rotate(45deg)">2020-12-...</div>
<div style="position:absolute;left:348.9px;top:486.0px;font-size:6.8px;line-height:7px;color:#9c9c9c;white-space:nowrap;transform-origin:0 50%;transform:rotate(45deg)">2020-12-...</div>
<div style="position:absolute;left:382.2px;top:486.0px;font-size:6.8px;line-height:7px;color:#9c9c9c;white-space:nowrap;transform-origin:0 50%;transform:rotate(45deg)">2021-01-...</div>
<div style="position:absolute;left:415.5px;top:486.0px;font-size:6.8px;line-height:7px;color:#9c9c9c;white-space:nowrap;transform-origin:0 50%;transform:rotate(45deg)">2021-01-...</div>
<div style="position:absolute;left:448.8px;top:486.0px;font-size:6.8px;line-height:7px;color:#9c9c9c;white-space:nowrap;transform-origin:0 50%;transform:rotate(45deg)">2021-01</div>
<div style="position:absolute;left:482.1px;top:486.0px;font-size:6.8px;line-height:7px;color:#9c9c9c;white-space:nowrap;transform-origin:0 50%;transform:rotate(45deg)">2021-01</div>
<div style="position:absolute;left:314.8px;top:502.4px;width:5.4px;height:4.4px;background:#9c27b0"></div>
<div style="position:absolute;top:500px;font-size:7.22px;line-height:9px;font-weight:400;color:#555;white-space:nowrap;left:324px;">Online</div>
<div style="position:absolute;left:360.5px;top:502.4px;width:5.6px;height:4.4px;background:#d81b60"></div>
<div style="position:absolute;top:500px;font-size:7.63px;line-height:9px;font-weight:400;color:#555;white-space:nowrap;letter-spacing:0.018px;left:370px;">In-store</div>
<div class="card" style="left:5px;top:527.9px;width:282.2px;height:230.80000000000007px"></div>
<div style="position:absolute;top:538px;font-size:7.38px;line-height:9px;font-weight:700;color:#2a2a2a;white-space:nowrap;letter-spacing:0.000px;left:12.6px;">Tenetur Aliquam Consequatur</div>
<div style="position:absolute;top:548px;font-size:7.60px;line-height:9px;font-weight:400;color:#666;white-space:nowrap;letter-spacing:-0.000px;left:12.6px;">Nesciunt placeat qui dignissimos odio possimus animi quas.</div>
<div style="position:absolute;top:572px;font-size:7.74px;line-height:9px;font-weight:400;color:#b0b0b0;white-space:nowrap;letter-spacing:0.446px;left:13.5px;">Asperiores</div>
<div style="position:absolute;top:572px;font-size:7.74px;line-height:9px;font-weight:400;color:#b0b0b0;white-space:nowrap;letter-spacing:0.330px;right:539.47px;">Inventore</div>
<div style="position:absolute;top:572px;font-size:7.74px;line-height:9px;font-weight:400;color:#b0b0b0;white-space:nowrap;letter-spacing:0.534px;right:498.77px;">Veritatis</div>
<div style="position:absolute;top:572px;font-size:7.74px;line-height:9px;font-weight:400;color:#b0b0b0;white-space:nowrap;letter-spacing:0.459px;right:441.74px;">Consequatur</div>
<div class="sep" style="left:12.6px;width:266px;top:585px;background:#cfcfcf"></div>
<div style="position:absolute;top:591px;font-size:7.80px;line-height:9px;font-weight:700;color:#2a2a2a;white-space:nowrap;left:13px;">Omnis Illum Officia</div>
<div style="position:absolute;top:591px;font-size:7.80px;line-height:9px;font-weight:400;color:#333;white-space:nowrap;right:539.80px;">$5,017.64</div>
<div style="position:absolute;top:591px;font-size:7.80px;line-height:9px;font-weight:400;color:#333;white-space:nowrap;right:499.30px;">4.93%</div>
<div style="position:absolute;top:591px;font-size:7.80px;line-height:9px;font-weight:400;color:#333;white-space:nowrap;right:442.20px;">-0.45%</div>
<div style="position:absolute;top:610px;font-size:7.80px;line-height:9px;font-weight:700;color:#2a2a2a;white-space:nowrap;left:13px;">Error Vitae Autem</div>
<div style="position:absolute;top:610px;font-size:7.80px;line-height:9px;font-weight:400;color:#333;white-space:nowrap;right:539.80px;">$2,126.62</div>
<div style="position:absolute;top:610px;font-size:7.80px;line-height:9px;font-weight:400;color:#333;white-space:nowrap;right:499.30px;">-5.09%</div>
<div style="position:absolute;top:610px;font-size:7.80px;line-height:9px;font-weight:400;color:#333;white-space:nowrap;right:442.20px;">-0.66%</div>
<div style="position:absolute;top:628px;font-size:7.80px;line-height:9px;font-weight:700;color:#2a2a2a;white-space:nowrap;left:13px;">Architecto Dolorum Voluptate</div>
<div style="position:absolute;top:628px;font-size:7.80px;line-height:9px;font-weight:400;color:#333;white-space:nowrap;right:539.80px;">$5,018.83</div>
<div style="position:absolute;top:628px;font-size:7.80px;line-height:9px;font-weight:400;color:#333;white-space:nowrap;right:499.30px;">2.30%</div>
<div style="position:absolute;top:628px;font-size:7.80px;line-height:9px;font-weight:400;color:#333;white-space:nowrap;right:442.20px;">4.84%</div>
<div style="position:absolute;top:647px;font-size:7.80px;line-height:9px;font-weight:700;color:#2a2a2a;white-space:nowrap;left:13px;">Animi Voluptate Accusamus</div>
<div style="position:absolute;top:647px;font-size:7.80px;line-height:9px;font-weight:400;color:#333;white-space:nowrap;right:539.80px;">$7,153.96</div>
<div style="position:absolute;top:647px;font-size:7.80px;line-height:9px;font-weight:400;color:#333;white-space:nowrap;right:499.30px;">8.17%</div>
<div style="position:absolute;top:647px;font-size:7.80px;line-height:9px;font-weight:400;color:#333;white-space:nowrap;right:442.20px;">-3.80%</div>
<div style="position:absolute;top:665px;font-size:7.80px;line-height:9px;font-weight:700;color:#2a2a2a;white-space:nowrap;left:13px;">Corporis Molestias Nulla</div>
<div style="position:absolute;top:665px;font-size:7.80px;line-height:9px;font-weight:400;color:#333;white-space:nowrap;right:539.80px;">$2,353.44</div>
<div style="position:absolute;top:665px;font-size:7.80px;line-height:9px;font-weight:400;color:#333;white-space:nowrap;right:499.30px;">8.50%</div>
<div style="position:absolute;top:665px;font-size:7.80px;line-height:9px;font-weight:400;color:#333;white-space:nowrap;right:442.20px;">1.34%</div>
<div style="position:absolute;top:684px;font-size:7.80px;line-height:9px;font-weight:700;color:#2a2a2a;white-space:nowrap;left:13px;">Nulla Impedit Ad</div>
<div style="position:absolute;top:684px;font-size:7.80px;line-height:9px;font-weight:400;color:#333;white-space:nowrap;right:539.80px;">$8,346.67</div>
<div style="position:absolute;top:684px;font-size:7.80px;line-height:9px;font-weight:400;color:#333;white-space:nowrap;right:499.30px;">-2.73%</div>
<div style="position:absolute;top:684px;font-size:7.80px;line-height:9px;font-weight:400;color:#333;white-space:nowrap;right:442.20px;">3.17%</div>
<div style="position:absolute;top:702px;font-size:7.80px;line-height:9px;font-weight:700;color:#2a2a2a;white-space:nowrap;left:13px;">Saepe Exercitationem</div>
<div style="position:absolute;top:713px;font-size:7.80px;line-height:9px;font-weight:700;color:#2a2a2a;white-space:nowrap;left:13px;">Doloremque</div>
<div style="position:absolute;top:702px;font-size:7.80px;line-height:9px;font-weight:400;color:#333;white-space:nowrap;right:539.80px;">$2,717.86</div>
<div style="position:absolute;top:702px;font-size:7.80px;line-height:9px;font-weight:400;color:#333;white-space:nowrap;right:499.30px;">3.14%</div>
<div style="position:absolute;top:702px;font-size:7.80px;line-height:9px;font-weight:400;color:#333;white-space:nowrap;right:442.20px;">2.43%</div>
<div style="position:absolute;top:732px;font-size:7.80px;line-height:9px;font-weight:700;color:#2a2a2a;white-space:nowrap;left:13px;">Ea Sit Non</div>
<div style="position:absolute;top:732px;font-size:7.80px;line-height:9px;font-weight:400;color:#333;white-space:nowrap;right:539.80px;">$2,000.11</div>
<div style="position:absolute;top:732px;font-size:7.80px;line-height:9px;font-weight:400;color:#333;white-space:nowrap;right:499.30px;">9.03%</div>
<div style="position:absolute;top:732px;font-size:7.80px;line-height:9px;font-weight:400;color:#333;white-space:nowrap;right:442.20px;">-1.28%</div>
<div class="sep" style="left:12.6px;width:266px;top:603.7px"></div>
<div class="sep" style="left:12.6px;width:266px;top:622.5px"></div>
<div class="sep" style="left:12.6px;width:266px;top:641.2px"></div>
<div class="sep" style="left:12.6px;width:266px;top:659.5px"></div>
<div class="sep" style="left:12.6px;width:266px;top:677.8px"></div>
<div class="sep" style="left:12.6px;width:266px;top:696.5px"></div>
<div class="sep" style="left:12.6px;width:266px;top:725.8px"></div>
<div class="card" style="left:296.0px;top:527.9px;width:215.3px;height:230.80000000000007px"></div>
<div style="position:absolute;top:538px;font-size:7.28px;line-height:9px;font-weight:700;color:#2a2a2a;white-space:nowrap;letter-spacing:0.000px;left:304.5px;">Accusantium Quis Vel</div>
<div style="position:absolute;top:548px;font-size:7.61px;line-height:9px;font-weight:400;color:#666;white-space:nowrap;left:304.5px;">Omnis nulla facilis excepturi quidem soluta neque</div>
<div style="position:absolute;top:558px;font-size:7.45px;line-height:9px;font-weight:400;color:#666;white-space:nowrap;left:304.5px;">laboriosam.</div>
<svg style="position:absolute;left:305.8px;top:582.9px" width="10.2" height="10.2" viewBox="0 0 16 16"><path d="M1 12 v-3.6 l2.2 -3 h9.6 l2.2 3 v3.6 z" fill="none" stroke="#3f6fa8" stroke-width="1.4" stroke-linejoin="round"/><path d="M3 8.6 h3 M10 8.6 h3 M4 12.2 v1.4 M12 12.2 v1.4" fill="none" stroke="#3f6fa8" stroke-width="1.3"/></svg>
<div style="position:absolute;top:584px;font-size:7.75px;line-height:9px;font-weight:700;color:#2a2a2a;white-space:nowrap;left:320.8px;">Explicabo</div>
<div style="position:absolute;top:594px;font-size:7.45px;line-height:9px;font-weight:400;color:#555;white-space:nowrap;left:320.8px;">Iusto Doloribus Omnis</div>
<div style="position:absolute;top:584px;font-size:8.15px;line-height:9px;font-weight:700;color:#2a2a2a;white-space:nowrap;right:218.80px;">$7,528.78</div>
<div class="sep" style="left:304.5px;width:197.3px;top:607.5px"></div>
<svg style="position:absolute;left:305.8px;top:613.9499999999999px" width="10.2" height="10.2" viewBox="0 0 16 16"><path d="M2.6 10 V7.6 a5.4 5.4 0 0 1 10.8 0 V10 M2.6 8.3 v4.6 h2.2 v-4.6 z M13.4 8.3 v4.6 h-2.2 v-4.6 z M12.3 13 q-1 2 -4.2 2" fill="none" stroke="#d9534f" stroke-width="1.5"/></svg>
<div style="position:absolute;top:615px;font-size:7.75px;line-height:9px;font-weight:700;color:#2a2a2a;white-space:nowrap;left:320.8px;">Voluptatum</div>
<div style="position:absolute;top:625px;font-size:7.45px;line-height:9px;font-weight:400;color:#555;white-space:nowrap;left:320.8px;">Sed Neque Magni</div>
<div style="position:absolute;top:615px;font-size:8.15px;line-height:9px;font-weight:700;color:#2a2a2a;white-space:nowrap;right:218.80px;">$6,771.95</div>
<div class="sep" style="left:304.5px;width:197.3px;top:638.5px"></div>
<svg style="position:absolute;left:305.8px;top:645.0px" width="10.2" height="10.2" viewBox="0 0 16 16"><path d="M1 11 h14 q0 -2 -3.6 -2.6 q-2.6 -0.6 -4.2 -3.4 q-1 1.4 -2.8 1 l-3 3.2 z" fill="none" stroke="#2585d9" stroke-width="1.4" stroke-linejoin="round"/><path d="M0.3 12.9 h15.4" stroke="#2585d9" stroke-width="1.9"/></svg>
<div style="position:absolute;top:646px;font-size:7.75px;line-height:9px;font-weight:700;color:#2a2a2a;white-space:nowrap;left:320.8px;">Corporis</div>
<div style="position:absolute;top:656px;font-size:7.45px;line-height:9px;font-weight:400;color:#555;white-space:nowrap;left:320.8px;">Tenetur Blanditiis Molestias</div>
<div style="position:absolute;top:646px;font-size:8.15px;line-height:9px;font-weight:700;color:#2a2a2a;white-space:nowrap;right:218.80px;">$8,661.49</div>
<div class="sep" style="left:304.5px;width:197.3px;top:669.6px"></div>
<svg style="position:absolute;left:305.8px;top:676.05px" width="10.2" height="10.2" viewBox="0 0 16 16"><rect x="1" y="5.6" width="8" height="6" rx="3" fill="none" stroke="#e8777a" stroke-width="1.6"/><rect x="7" y="5.6" width="8" height="6" rx="3" fill="none" stroke="#e8777a" stroke-width="1.6"/></svg>
<div style="position:absolute;top:677px;font-size:7.75px;line-height:9px;font-weight:700;color:#2a2a2a;white-space:nowrap;left:320.8px;">Molestias</div>
<div style="position:absolute;top:687px;font-size:7.45px;line-height:9px;font-weight:400;color:#555;white-space:nowrap;left:320.8px;">Possimus Nobis Veritatis</div>
<div style="position:absolute;top:677px;font-size:8.15px;line-height:9px;font-weight:700;color:#2a2a2a;white-space:nowrap;right:218.80px;">$6,548.28</div>
<div class="sep" style="left:304.5px;width:197.3px;top:700.6px"></div>
<svg style="position:absolute;left:305.8px;top:707.1px" width="10.2" height="10.2" viewBox="0 0 16 16"><path d="M1 4.6 h11.5 v1.6 q0 4.6 -5.7 4.6 q-5.8 0 -5.8 -4.6 z M12.5 5.4 h2 q1.2 0 0.6 1.6 q-0.6 1.6 -3 1.6 M3.4 12.6 h7" fill="none" stroke="#6ab0e6" stroke-width="1.5" stroke-linejoin="round"/></svg>
<div style="position:absolute;top:708px;font-size:7.75px;line-height:9px;font-weight:700;color:#2a2a2a;white-space:nowrap;left:320.8px;">Nesciunt</div>
<div style="position:absolute;top:718px;font-size:7.45px;line-height:9px;font-weight:400;color:#555;white-space:nowrap;left:320.8px;">Minus Dignissimos Expedita</div>
<div style="position:absolute;top:708px;font-size:8.15px;line-height:9px;font-weight:700;color:#2a2a2a;white-space:nowrap;right:218.80px;">$1,221.61</div>
<div style="position:absolute;top:777px;font-size:7.95px;line-height:9px;font-weight:400;color:#222;white-space:nowrap;letter-spacing:0.073px;left:5px;">© 2021 H2O.ai. All rights reserved.</div>
</body></html>
